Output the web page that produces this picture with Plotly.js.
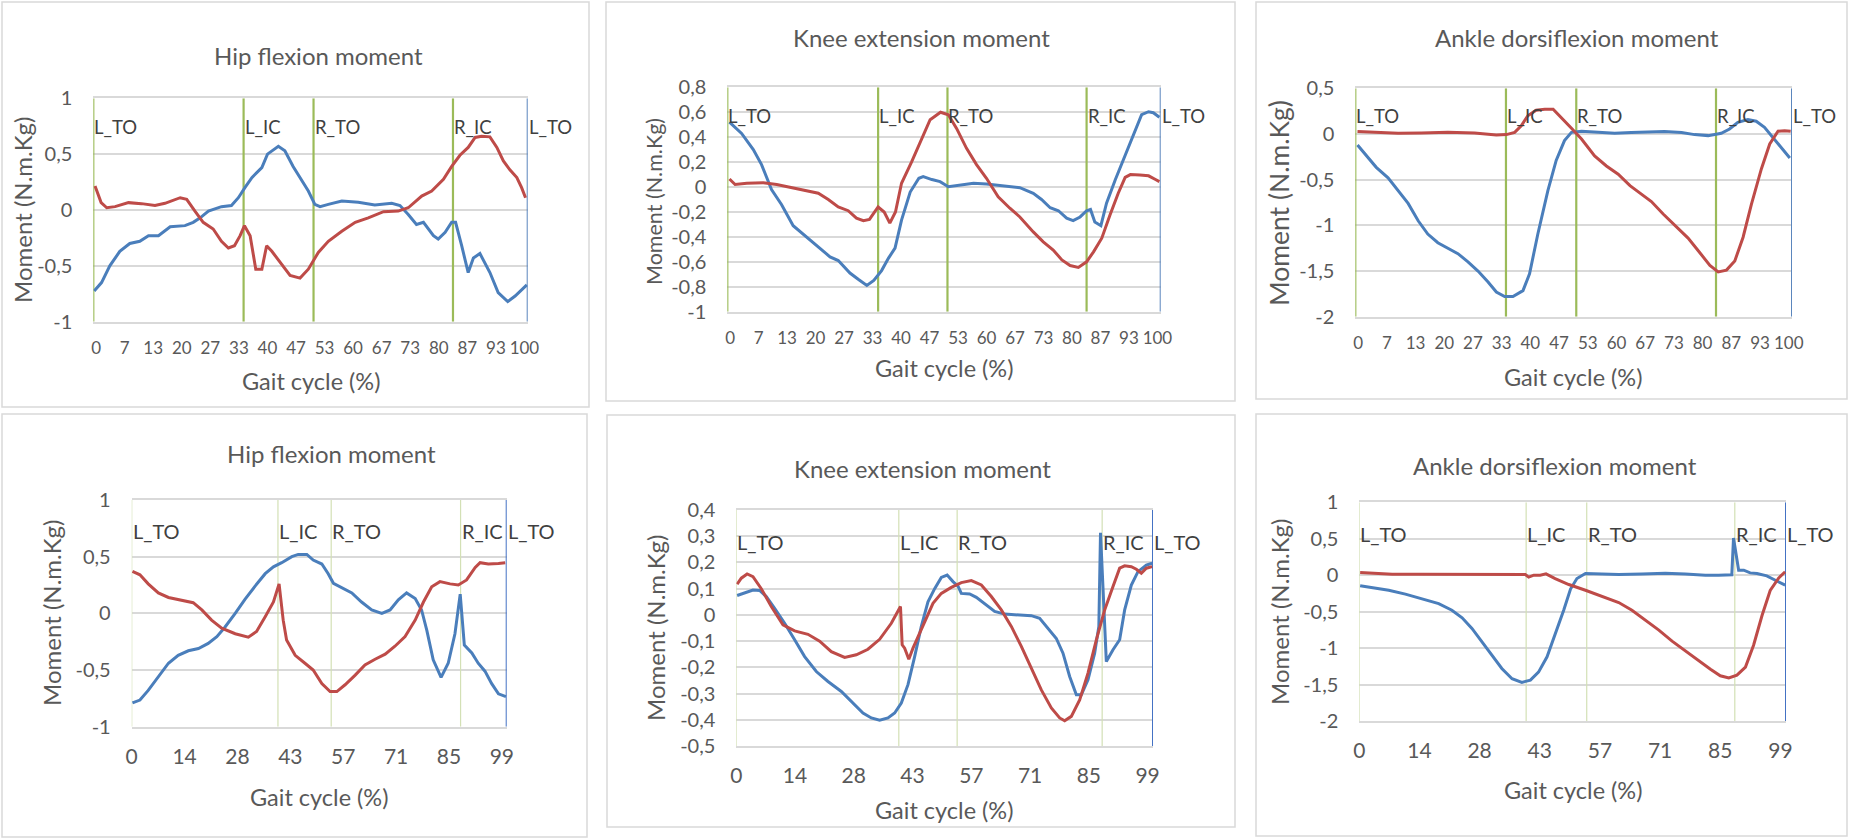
<!DOCTYPE html>
<html>
<head>
<meta charset="utf-8">
<script src="https://cdn.plot.ly/plotly-3.0.1.min.js"></script>
<style>
html,body{margin:0;padding:0;background:#ffffff;}
#chart{width:1849px;height:839px;}
</style>
</head>
<body>
<div id="chart"></div>
<script>
// ---------------- DATA ----------------
const eventNames = ['L_TO', 'L_IC', 'R_TO', 'R_IC', 'L_TO'];

const xTicksTop = ['0','7','13','20','27','33','40','47','53','60','67','73','80','87','93','100'];
const xTicksBottom = ['0','14','28','43','57','71','85','99'];

const yTicksHip = ['-1','-0,5','0','0,5','1'];
const yTicksKneeTop = ['-1','-0,8','-0,6','-0,4','-0,2','0','0,2','0,4','0,6','0,8'];
const yTicksAnkleTop = ['-2','-1,5','-1','-0,5','0','0,5'];
const yTicksKneeBottom = ['-0,5','-0,4','-0,3','-0,2','-0,1','0','0,1','0,2','0,3','0,4'];
const yTicksAnkleBottom = ['-2','-1,5','-1','-0,5','0','0,5','1'];

// event positions (% of gait cycle)
const eventsHipTop = [0, 34.6, 50.7, 82.8, 100];
const eventsKneeTop = [0, 34.8, 50.8, 82.9, 100];
const eventsAnkleTop = [0, 34.5, 50.6, 82.6, 100];
const eventsHipBottom = [0, 39.0, 53.2, 87.7, 100];
const eventsKneeBottom = [0, 39.0, 53.0, 87.8, 100];
const eventsAnkleBottom = [0, 39.1, 53.3, 88.0, 100];

// series: [gait %, moment]
const hipTopBlue = [[0.2,-0.725],[1.9,-0.65],[3.8,-0.50],[6.1,-0.37],[8.4,-0.30],[10.7,-0.28],[12.7,-0.23],[15.0,-0.23],[17.7,-0.15],[21.1,-0.14],[23.0,-0.11],[24.6,-0.07],[26.5,-0.01],[28.0,0.01],[29.5,0.03],[31.8,0.04],[33.4,0.11],[34.9,0.20],[36.5,0.29],[38.8,0.38],[40.1,0.50],[42.6,0.57],[44.1,0.53],[46.0,0.39],[48.0,0.26],[49.5,0.17],[51.0,0.05],[52.2,0.03],[54.1,0.05],[57.2,0.08],[61.0,0.07],[64.8,0.045],[68.7,0.06],[70.6,0.04],[72.5,-0.04],[74.4,-0.13],[76.0,-0.11],[78.3,-0.23],[79.4,-0.26],[81.0,-0.20],[82.5,-0.11],[83.4,-0.11],[84.8,-0.32],[86.3,-0.56],[87.5,-0.43],[89.0,-0.39],[91.3,-0.56],[93.2,-0.74],[95.4,-0.82],[97.1,-0.77],[99.8,-0.67]];
const hipTopRed = [[0.4,0.215],[1.8,0.066],[3.1,0.02],[5.0,0.03],[8.1,0.066],[11.1,0.057],[14.2,0.04],[16.5,0.06],[20.0,0.11],[21.5,0.095],[23.4,-0.01],[25.3,-0.11],[27.6,-0.17],[29.5,-0.28],[31.1,-0.34],[32.5,-0.32],[33.8,-0.23],[34.8,-0.14],[36.1,-0.23],[37.4,-0.53],[38.8,-0.53],[39.9,-0.32],[41.1,-0.37],[43.4,-0.49],[45.3,-0.585],[47.6,-0.61],[49.5,-0.53],[51.8,-0.38],[54.1,-0.28],[57.2,-0.19],[60.3,-0.11],[63.3,-0.07],[66.8,-0.015],[70.2,-0.01],[72.5,0.02],[75.6,0.125],[77.9,0.17],[80.6,0.275],[82.5,0.39],[84.4,0.49],[86.3,0.56],[87.9,0.65],[89.4,0.66],[91.3,0.655],[92.9,0.56],[94.4,0.44],[95.9,0.36],[97.5,0.29],[98.6,0.20],[99.5,0.11]];

const kneeTopBlue = [[0.5,0.52],[1.8,0.476],[3.3,0.43],[6.0,0.30],[7.9,0.18],[10.2,-0.02],[12.5,-0.14],[15.2,-0.31],[17.2,-0.37],[19.5,-0.44],[21.8,-0.505],[23.7,-0.56],[25.6,-0.59],[28.3,-0.69],[30.2,-0.74],[32.2,-0.79],[33.8,-0.75],[35.6,-0.67],[37.2,-0.57],[38.7,-0.49],[40.2,-0.265],[42.2,-0.04],[44.2,0.07],[45.2,0.083],[47.2,0.06],[49.1,0.043],[51.0,0.003],[53.7,0.016],[56.8,0.03],[59.8,0.024],[63.7,0.01],[67.5,-0.005],[70.6,-0.05],[72.5,-0.10],[74.5,-0.166],[76.4,-0.19],[78.3,-0.25],[79.8,-0.27],[81.4,-0.24],[82.9,-0.19],[83.8,-0.18],[84.8,-0.28],[86.2,-0.31],[87.5,-0.13],[89.5,0.056],[91.8,0.257],[93.7,0.43],[95.6,0.58],[97.2,0.604],[98.3,0.596],[99.7,0.56]];
const kneeTopRed = [[0.5,0.064],[1.8,0.02],[4.5,0.03],[8.3,0.035],[11.4,0.02],[15.2,-0.01],[18.3,-0.03],[21.0,-0.05],[23.3,-0.10],[25.6,-0.16],[27.9,-0.19],[29.8,-0.25],[31.4,-0.27],[32.8,-0.26],[33.8,-0.21],[34.8,-0.16],[36.2,-0.20],[37.5,-0.29],[38.8,-0.20],[40.2,0.03],[42.5,0.20],[44.8,0.39],[46.8,0.54],[49.2,0.60],[51.0,0.58],[52.9,0.47],[55.2,0.31],[57.5,0.18],[59.8,0.07],[62.5,-0.078],[65.2,-0.17],[67.5,-0.24],[70.6,-0.36],[72.9,-0.44],[75.2,-0.505],[77.2,-0.585],[79.1,-0.63],[81.0,-0.645],[82.9,-0.60],[84.5,-0.52],[86.4,-0.41],[88.3,-0.225],[90.2,-0.05],[91.8,0.078],[93.0,0.10],[95.2,0.096],[97.2,0.09],[98.8,0.06],[99.7,0.043]];

const ankleTopBlue = [[0.5,-0.12],[2.5,-0.24],[4.8,-0.365],[7.5,-0.48],[9.8,-0.62],[12.1,-0.76],[14.4,-0.95],[16.6,-1.095],[18.9,-1.19],[21.2,-1.25],[23.5,-1.31],[25.8,-1.40],[28.1,-1.50],[30.4,-1.62],[32.3,-1.73],[34.2,-1.78],[36.1,-1.78],[38.4,-1.715],[39.9,-1.53],[41.8,-1.095],[44.1,-0.62],[46.0,-0.29],[47.9,-0.073],[49.5,0.018],[51.8,0.03],[55.6,0.018],[59.4,0.007],[63.2,0.015],[67.0,0.022],[70.8,0.026],[74.7,0.015],[77.7,-0.007],[80.8,-0.018],[83.8,0.007],[85.7,0.055],[87.6,0.128],[89.9,0.157],[91.8,0.139],[93.7,0.073],[95.6,-0.036],[97.6,-0.146],[99.5,-0.263]];
const ankleTopRed = [[0.5,0.026],[4.4,0.018],[9.8,0.007],[15.1,0.011],[21.2,0.018],[27.3,0.011],[32.3,-0.011],[34.6,-0.007],[36.5,0.018],[38.0,0.09],[39.5,0.20],[41.4,0.26],[43.4,0.27],[45.3,0.27],[47.2,0.18],[49.5,0.062],[51.8,-0.055],[54.8,-0.24],[57.5,-0.35],[60.2,-0.44],[62.9,-0.565],[65.5,-0.66],[67.8,-0.74],[70.5,-0.876],[73.1,-1.0],[76.2,-1.14],[78.9,-1.30],[81.2,-1.44],[83.1,-1.51],[85.0,-1.49],[86.9,-1.39],[88.8,-1.13],[90.7,-0.77],[93.0,-0.38],[94.9,-0.11],[96.8,0.03],[98.3,0.036],[99.7,0.03]];

const hipBottomBlue = [[0.2,-0.79],[2.2,-0.765],[4.4,-0.68],[7.1,-0.56],[9.8,-0.44],[12.4,-0.37],[15.1,-0.33],[17.8,-0.31],[20.4,-0.265],[22.7,-0.206],[24.9,-0.12],[27.6,0.0],[30.2,0.124],[32.9,0.24],[35.6,0.35],[37.8,0.41],[40.0,0.447],[42.7,0.5],[44.4,0.52],[46.7,0.52],[48.4,0.47],[50.7,0.435],[52.4,0.35],[53.8,0.265],[56.0,0.23],[58.7,0.18],[61.3,0.10],[64.0,0.03],[66.7,0.0],[68.9,0.03],[71.1,0.12],[73.3,0.18],[75.6,0.13],[77.3,0.03],[78.7,-0.15],[80.4,-0.41],[82.5,-0.565],[84.4,-0.44],[86.2,-0.18],[87.6,0.17],[88.7,-0.28],[90.7,-0.35],[92.4,-0.44],[94.2,-0.51],[96.0,-0.62],[97.8,-0.71],[99.8,-0.735]];
const hipBottomRed = [[0.2,0.37],[2.2,0.34],[4.4,0.26],[7.1,0.18],[9.8,0.14],[13.3,0.118],[16.4,0.094],[18.7,0.03],[21.3,-0.06],[24.0,-0.13],[27.6,-0.18],[31.1,-0.21],[33.3,-0.16],[35.6,-0.03],[37.8,0.10],[39.3,0.26],[40.4,-0.06],[41.3,-0.235],[43.6,-0.37],[46.2,-0.44],[48.4,-0.5],[50.7,-0.62],[52.9,-0.69],[54.7,-0.69],[56.9,-0.63],[59.6,-0.545],[62.2,-0.455],[64.9,-0.405],[67.6,-0.36],[70.2,-0.29],[72.9,-0.205],[75.6,-0.06],[77.8,0.10],[80.0,0.235],[82.2,0.28],[84.9,0.26],[87.1,0.25],[89.3,0.295],[91.6,0.405],[92.9,0.447],[95.1,0.435],[97.8,0.44],[99.6,0.447]];

const kneeBottomBlue = [[0.2,0.074],[2.0,0.085],[4.0,0.095],[5.6,0.093],[7.2,0.07],[9.2,0.025],[11.6,-0.032],[14.0,-0.095],[16.4,-0.159],[19.2,-0.216],[22.0,-0.254],[25.2,-0.292],[28.0,-0.336],[30.4,-0.374],[32.4,-0.393],[34.4,-0.402],[36.4,-0.393],[38.0,-0.374],[39.6,-0.336],[41.2,-0.266],[42.8,-0.159],[44.4,-0.044],[46.0,0.05],[47.6,0.10],[49.2,0.143],[50.6,0.152],[52.0,0.127],[53.2,0.11],[54.0,0.082],[56.0,0.08],[57.6,0.067],[59.6,0.042],[62.0,0.013],[64.4,0.003],[67.6,0.0],[70.8,-0.003],[72.8,-0.013],[74.8,-0.05],[76.8,-0.09],[78.4,-0.146],[80.0,-0.235],[81.6,-0.305],[82.8,-0.305],[84.4,-0.247],[86.0,-0.146],[87.0,-0.044],[87.4,0.313],[88.8,-0.178],[90.4,-0.133],[92.0,-0.095],[93.2,0.019],[94.8,0.114],[96.4,0.165],[98.4,0.19],[99.8,0.197]];
const kneeBottomRed = [[0.2,0.117],[1.2,0.14],[2.6,0.156],[4.0,0.146],[6.0,0.10],[8.4,0.032],[11.2,-0.038],[14.0,-0.061],[17.2,-0.074],[20.0,-0.10],[22.8,-0.14],[26.0,-0.162],[28.8,-0.152],[31.6,-0.131],[34.4,-0.093],[37.2,-0.032],[39.4,0.032],[39.8,-0.114],[40.4,-0.127],[41.4,-0.169],[42.4,-0.127],[44.0,-0.07],[45.6,-0.006],[47.2,0.044],[49.2,0.082],[51.6,0.105],[54.0,0.123],[56.4,0.131],[58.8,0.114],[61.2,0.07],[63.6,0.019],[66.0,-0.044],[68.4,-0.12],[70.8,-0.203],[73.2,-0.286],[75.6,-0.355],[77.6,-0.393],[78.8,-0.404],[80.4,-0.387],[82.4,-0.324],[84.4,-0.222],[86.4,-0.095],[88.4,0.019],[90.4,0.108],[92.0,0.178],[93.2,0.187],[94.8,0.184],[96.0,0.174],[97.2,0.159],[98.4,0.178],[99.8,0.184]];

const ankleBottomBlue = [[0.2,-0.146],[3.0,-0.174],[6.9,-0.206],[10.8,-0.26],[14.7,-0.32],[18.6,-0.39],[21.7,-0.48],[24.1,-0.585],[26.4,-0.73],[28.75,-0.915],[31.1,-1.10],[33.4,-1.28],[35.8,-1.42],[38.1,-1.47],[40.1,-1.44],[42.0,-1.33],[44.0,-1.12],[45.9,-0.82],[47.9,-0.48],[49.5,-0.19],[51.0,-0.046],[53.0,0.023],[56.1,0.018],[60.8,0.009],[66.25,0.018],[71.7,0.027],[76.4,0.018],[81.1,0.0],[84.2,0.0],[87.3,0.005],[87.7,0.51],[88.9,0.069],[90.1,0.069],[91.6,0.032],[93.2,0.023],[95.5,-0.009],[97.5,-0.069],[99.8,-0.137]];
const ankleBottomRed = [[0.2,0.037],[3.75,0.023],[7.7,0.014],[13.9,0.014],[21.7,0.014],[29.5,0.009],[35.8,0.009],[38.9,0.009],[39.7,-0.027],[40.9,0.0],[42.4,0.0],[43.75,0.018],[45.9,-0.046],[49.1,-0.128],[53.0,-0.206],[56.9,-0.288],[60.8,-0.375],[63.9,-0.48],[67.0,-0.617],[70.2,-0.754],[73.3,-0.905],[76.4,-1.04],[79.5,-1.17],[82.3,-1.29],[84.6,-1.38],[86.6,-1.41],[88.5,-1.37],[90.5,-1.26],[92.4,-0.96],[94.4,-0.55],[96.3,-0.21],[98.3,-0.037],[99.8,0.046]];

// ---------------- LAYOUT / STYLE ----------------
const W = 1849, H = 839;
const FONT = 'Lato, "Open Sans", sans-serif';
const BLUE = '#4A7EBB', RED = '#BE4B48';
const GRID = '#D9D9D9', TXT = '#595959', LBL = '#404040';

const panels = [
  {title:'Hip flexion moment', blue:hipTopBlue, red:hipTopRed, events:eventsHipTop, yt:yTicksHip, xt:xTicksTop, top:true,
   plot:[93.3,98.3,527.7,321.7], box:[2,2,589,407], tpos:[318,55], xtpos:[311,381], ytpos:[22,210], lblY:0.746, ytSize:24},
  {title:'Knee extension moment', blue:kneeTopBlue, red:kneeTopRed, events:eventsKneeTop, yt:yTicksKneeTop, xt:xTicksTop, top:true,
   plot:[727.3,87.3,1160.7,311.7], box:[606,2,1235,401], tpos:[921,38], xtpos:[944,368], ytpos:[654,202], lblY:0.57, ytSize:21.5},
  {title:'Ankle dorsiflexion moment', blue:ankleTopBlue, red:ankleTopRed, events:eventsAnkleTop, yt:yTicksAnkleTop, xt:xTicksTop, top:true,
   plot:[1355.3,88.3,1792,316.7], box:[1256,2,1847,399], tpos:[1577,38], xtpos:[1573,377], ytpos:[1279,203], lblY:0.197, ytSize:26.5},
  {title:'Hip flexion moment', blue:hipBottomBlue, red:hipBottomRed, events:eventsHipBottom, yt:yTicksHip, xt:xTicksBottom, top:false,
   plot:[131.7,500,506.7,726.7], box:[2,414,587,837], tpos:[331,453], xtpos:[319,797], ytpos:[51,613], lblY:0.727, ytSize:24},
  {title:'Knee extension moment', blue:kneeBottomBlue, red:kneeBottomRed, events:eventsKneeBottom, yt:yTicksKneeBottom, xt:xTicksBottom, top:false,
   plot:[736.3,510,1153,746], box:[607,415,1235,827], tpos:[922,468], xtpos:[944,810], ytpos:[655,628], lblY:0.279, ytSize:24},
  {title:'Ankle dorsiflexion moment', blue:ankleBottomBlue, red:ankleBottomRed, events:eventsAnkleBottom, yt:yTicksAnkleBottom, xt:xTicksBottom, top:false,
   plot:[1359.3,502.3,1786,721], box:[1256,414,1847,836], tpos:[1555,465], xtpos:[1573,790], ytpos:[1279,612], lblY:0.561, ytSize:24}
];

const px2x = v => v / W;
const px2y = v => 1 - v / H;
const num = s => parseFloat(s.replace(',', '.'));

const data = [];
const layout = {
  width: W, height: H,
  margin: {l:0, r:0, t:0, b:0},
  paper_bgcolor: '#ffffff', plot_bgcolor: 'rgba(0,0,0,0)',
  font: {family: FONT, color: TXT},
  showlegend: false,
  hovermode: false,
  annotations: [], shapes: []
};

panels.forEach((p, i) => {
  const s = i === 0 ? '' : String(i + 1);
  const xa = 'x' + s, ya = 'y' + s;
  const yv = p.yt.map(num);
  const ymin = Math.min(...yv), ymax = Math.max(...yv);
  let xv;
  if (p.top) {
    const first = 0.65, last = 99.25;
    xv = p.xt.map((_, k) => first + k * (last - first) / (p.xt.length - 1));
  } else {
    const first = 0, step = 14.1;
    xv = p.xt.map((_, k) => first + k * step);
  }
  layout['xaxis' + s] = {
    domain: [px2x(p.plot[0]), px2x(p.plot[2])],
    anchor: ya, range: [0, 100],
    tickmode: 'array', tickvals: xv, ticktext: p.xt,
    showgrid: false, zeroline: false,
    showline: true, mirror: true, linecolor: GRID, linewidth: 2,
    ticks: '', ticklabelstandoff: 10,
    tickfont: {family: FONT, size: p.top ? 17 : 21, color: TXT}
  };
  layout['yaxis' + s] = {
    domain: [px2y(p.plot[3]), px2y(p.plot[1])],
    anchor: xa, range: [ymin, ymax],
    tickmode: 'array', tickvals: yv, ticktext: p.yt,
    showgrid: true, gridcolor: GRID, gridwidth: 2,
    zeroline: false, showline: false,
    ticks: '', ticklabelstandoff: 20,
    tickfont: {family: FONT, size: 20, color: TXT}
  };

  const ev = p.events;
  const gx = [], gy = [];
  ev.slice(0, -1).forEach(e => { gx.push(e, e, null); gy.push(ymin, ymax, null); });
  data.push({type:'scatter', mode:'lines', x:gx, y:gy, xaxis:xa, yaxis:ya, cliponaxis:false,
    line:{color: p.top ? '#9BBB59' : '#D3E0B5', width: p.top ? 2.2 : 1.2}, hoverinfo:'skip'});
  const lastE = ev[ev.length - 1];
  data.push({type:'scatter', mode:'lines', x:[lastE, lastE], y:[ymin, ymax], xaxis:xa, yaxis:ya, cliponaxis:false,
    line:{color: p.top ? '#5B86BD' : '#4472C4', width: 2}, hoverinfo:'skip'});

  data.push({type:'scatter', mode:'lines', x:p.blue.map(d => d[0]), y:p.blue.map(d => d[1]),
    xaxis:xa, yaxis:ya, line:{color:BLUE, width:3}, hoverinfo:'skip'});
  data.push({type:'scatter', mode:'lines', x:p.red.map(d => d[0]), y:p.red.map(d => d[1]),
    xaxis:xa, yaxis:ya, line:{color:RED, width:3}, hoverinfo:'skip'});

  ev.forEach((e, k) => {
    layout.annotations.push({xref:xa, yref:ya, x:e, y:p.lblY, text:eventNames[k], showarrow:false,
      xanchor:'left', yanchor:'middle', xshift:-1,
      font:{family:FONT, size: p.top ? 18.5 : 20, color:LBL}});
  });

  layout.annotations.push({xref:'paper', yref:'paper', x:px2x(p.tpos[0]), y:px2y(p.tpos[1]),
    text:p.title, showarrow:false, xanchor:'center', yanchor:'middle',
    font:{family:FONT, size:24, color:TXT}});
  layout.annotations.push({xref:'paper', yref:'paper', x:px2x(p.xtpos[0]), y:px2y(p.xtpos[1]),
    text:'Gait cycle (%)', showarrow:false, xanchor:'center', yanchor:'middle',
    font:{family:FONT, size:23.5, color:TXT}});
  layout.annotations.push({xref:'paper', yref:'paper', x:px2x(p.ytpos[0]), y:px2y(p.ytpos[1]),
    text:'Moment (N.m.Kg)', showarrow:false, xanchor:'center', yanchor:'middle', textangle:-90,
    font:{family:FONT, size:p.ytSize, color:TXT}});

  layout.shapes.push({type:'rect', xref:'paper', yref:'paper',
    x0:px2x(p.box[0]), x1:px2x(p.box[2]), y0:px2y(p.box[3]), y1:px2y(p.box[1]),
    line:{color:GRID, width:1.5}, fillcolor:'rgba(0,0,0,0)', layer:'below'});
});

Plotly.newPlot('chart', data, layout, {staticPlot:true, displayModeBar:false});
</script>
</body>
</html>
